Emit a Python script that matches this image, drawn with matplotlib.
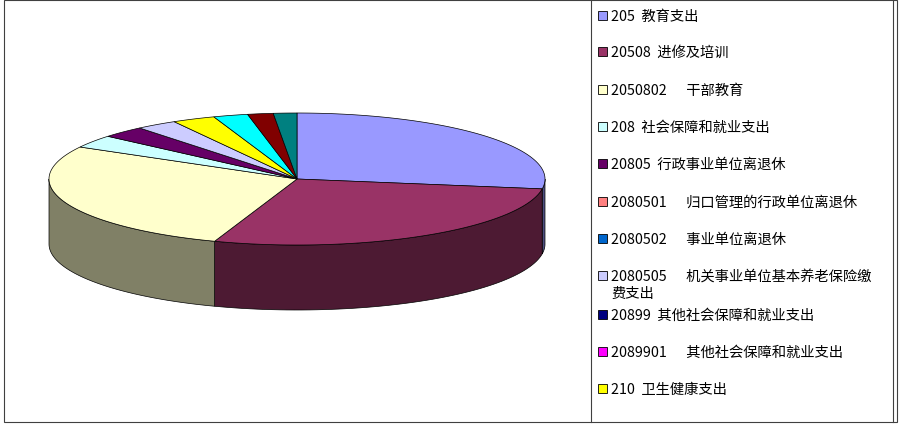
import numpy as np
import matplotlib
matplotlib.use("Agg")
import matplotlib.pyplot as plt
from matplotlib.patches import Polygon, Rectangle
from matplotlib.colors import to_rgb

plt.rcParams['font.family'] = ['Noto Sans CJK SC', 'DejaVu Sans']

# slice sizes in degrees, clockwise from 12 o'clock
labels = ["205  教育支出", "20508  进修及培训", "2050802      干部教育", "208  社会保障和就业支出",
          "20805  行政事业单位离退休", "2080501      归口管理的行政单位离退休",
          "2080502      事业单位离退休", "2080505      机关事业单位基本养老保险缴\n费支出",
          "20899  其他社会保障和就业支出", "2089901      其他社会保障和就业支出",
          "210  卫生健康支出", None, None, None]
values = [98.6, 100.8, 99.6, 11.3, 10.3, 0, 0, 9.7, 0, 0, 10.1, 8.1, 6.0, 5.5]
colors = ["#9999FF", "#993366", "#FFFFCC", "#CCFFFF", "#660066", "#FF8080", "#0066CC",
          "#CCCCFF", "#000080", "#FF00FF", "#FFFF00", "#00FFFF", "#800000", "#008080"]

CX, CY, RX, RY, D = 297, 180, 248, 66, 65


def pt(t, dy=0):
    r = np.radians(t)
    return CX + RX * np.cos(r), CY - RY * np.sin(r) + dy


fig = plt.figure(figsize=(9, 4.27), dpi=100)
ax = fig.add_axes([0, 0, 1, 1])
ax.set_xlim(0, 900); ax.set_ylim(427, 0); ax.axis("off")

t = 90.0
slices = []
for v, c in zip(values, colors):
    slices.append((t - v, t, c))
    t -= v

# side walls (front half only)
for t1, t2, c in slices:
    for lo, hi in [(-180, 0), (180, 360)]:
        a, b = max(t1, lo), min(t2, hi)
        if b <= a:
            continue
        ts = np.linspace(a, b, 60)
        top = [pt(x) for x in ts]
        bot = [pt(x, D) for x in ts[::-1]]
        dark = tuple(0.5 * ch for ch in to_rgb(c))
        ax.add_patch(Polygon(top + bot, closed=True, fc=dark, ec="black", lw=0.5))

# top faces
for t1, t2, c in slices:
    if t2 - t1 <= 0:
        continue
    ts = np.linspace(t2, t1, max(4, int((t2 - t1) * 2)))
    ax.add_patch(Polygon([(CX, CY)] + [pt(x) for x in ts], closed=True,
                         fc=c, ec="black", lw=0.5))

# frames
ax.add_patch(Rectangle((4, 1), 893, 422, fill=False, ec="#404040", lw=0.8))
ax.plot([591, 591], [1, 423], color="#404040", lw=0.8)
ax.plot([893, 893], [1, 423], color="#404040", lw=0.8)

# legend
ys = [17, 53, 91, 128, 165, 203, 240, 277, 316, 353, 390]
for y, lab, c in zip(ys, labels, colors):
    ax.add_patch(Rectangle((598, y - 5), 9, 9, fc=c, ec="black", lw=0.6))
    if "\n" in lab:
        first, second = lab.split("\n")
        ax.text(611, y, first, fontsize=10.3, va="center", ha="left")
        ax.text(611, y + 17, second, fontsize=10.3, va="center", ha="left")
    else:
        ax.text(611, y, lab, fontsize=10.3, va="center", ha="left")

fig.savefig("out.png", dpi=100)
